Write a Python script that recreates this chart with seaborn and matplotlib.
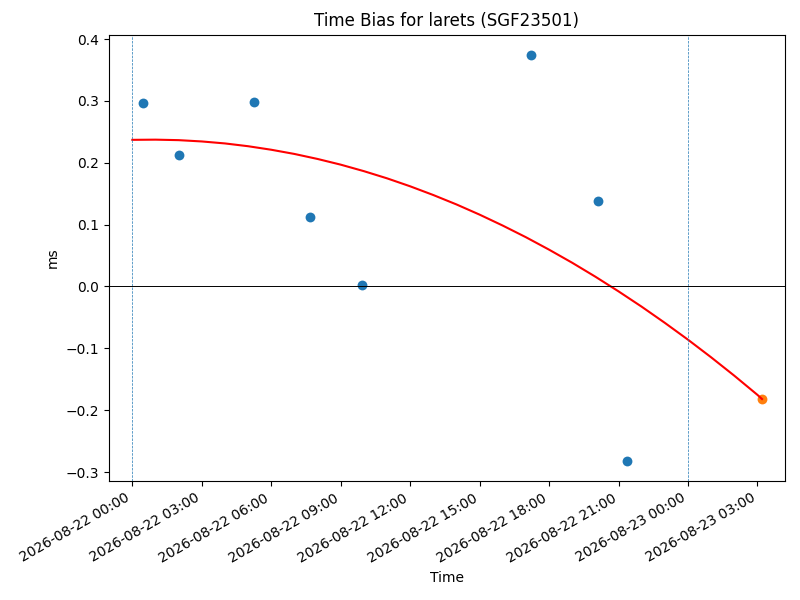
import pandas as pd
import matplotlib
matplotlib.use('Agg')
import matplotlib.pyplot as plt
import matplotlib.dates as mdates
import seaborn as sns

# observed time bias points
obs_times = ['2026-08-22 00:27', '2026-08-22 02:01', '2026-08-22 05:15', '2026-08-22 07:40',
             '2026-08-22 09:55', '2026-08-22 17:13', '2026-08-22 20:07', '2026-08-22 21:23']
obs_bias = [0.297, 0.212, 0.298, 0.113, 0.003, 0.374, 0.138, -0.282]

# predicted point
pred_time = ['2026-08-23 03:12']
pred_bias = [-0.182]

# fitted curve (hourly)
fit_times = ['2026-08-22 00:00', '2026-08-22 01:00', '2026-08-22 02:00', '2026-08-22 03:00',
             '2026-08-22 04:00', '2026-08-22 05:00', '2026-08-22 06:00', '2026-08-22 07:00',
             '2026-08-22 08:00', '2026-08-22 09:00', '2026-08-22 10:00', '2026-08-22 11:00',
             '2026-08-22 12:00', '2026-08-22 13:00', '2026-08-22 14:00', '2026-08-22 15:00',
             '2026-08-22 16:00', '2026-08-22 17:00', '2026-08-22 18:00', '2026-08-22 19:00',
             '2026-08-22 20:00', '2026-08-22 21:00', '2026-08-22 22:00', '2026-08-22 23:00',
             '2026-08-23 00:00', '2026-08-23 01:00', '2026-08-23 02:00', '2026-08-23 03:00',
             '2026-08-23 03:12']
fit_bias = [0.237, 0.2373, 0.2365, 0.2344, 0.2312, 0.2267, 0.2210, 0.2142,
            0.2061, 0.1969, 0.1864, 0.1748, 0.1619, 0.1478, 0.1326, 0.1161,
            0.0984, 0.0796, 0.0595, 0.0383, 0.0158, -0.0079, -0.0327, -0.0588,
            -0.0860, -0.1145, -0.1442, -0.1752, -0.182]

# day boundaries
day_marks = ['2026-08-22 00:00', '2026-08-23 00:00']

obs = pd.DataFrame({'time': pd.to_datetime(obs_times), 'bias': obs_bias})
pred = pd.DataFrame({'time': pd.to_datetime(pred_time), 'bias': pred_bias})
fit = pd.DataFrame({'time': pd.to_datetime(fit_times), 'bias': fit_bias})

fig, ax = plt.subplots(figsize=(8, 6), dpi=100)

sns.scatterplot(data=obs, x='time', y='bias', color='C0', s=50, linewidth=0, ax=ax)
sns.lineplot(data=fit, x='time', y='bias', color='red', linewidth=1.5, ax=ax)
sns.scatterplot(data=pred, x='time', y='bias', color='C1', s=50, linewidth=0, ax=ax)

for d in day_marks:
    ax.axvline(pd.to_datetime(d), color='C0', linestyle='--', linewidth=0.5)
ax.axhline(0, color='black', linewidth=0.7)

ax.set_xlim(pd.to_datetime('2026-08-21 22:59'), pd.to_datetime('2026-08-23 04:11'))
ax.xaxis.set_major_locator(mdates.HourLocator(byhour=range(0, 24, 3)))
ax.xaxis.set_major_formatter(mdates.DateFormatter('%Y-%m-%d %H:%M'))

ax.set_title('Time Bias for larets (SGF23501)')
ax.set_xlabel('Time')
ax.set_ylabel('ms')

fig.autofmt_xdate()
plt.subplots_adjust(left=0.136, right=0.981, top=0.942, bottom=0.198)
plt.savefig('out.png', dpi=100)
